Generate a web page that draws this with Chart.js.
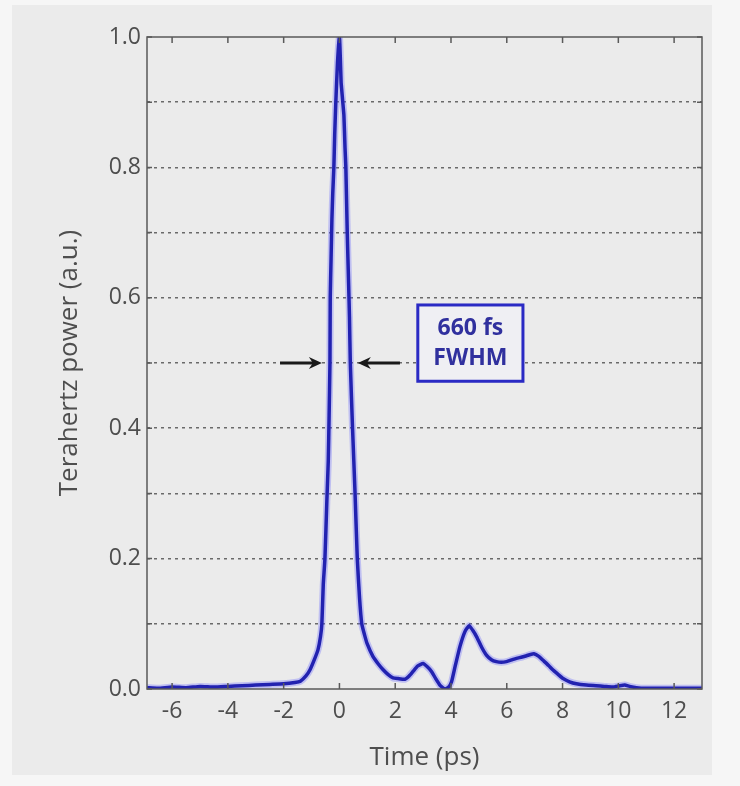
<!DOCTYPE html>
<html>
<head>
<meta charset="utf-8">
<script src="https://cdn.jsdelivr.net/npm/chart.js@4/dist/chart.umd.min.js"></script>
<style>
  html, body { margin: 0; padding: 0; background: #f5f5f5; }
  #wrap { width: 740px; height: 786px; }
</style>
</head>
<body>
<div id="wrap"><canvas id="c" width="740" height="786"></canvas></div>
<script>
// ---- data ----
const timePs = [
  -6.9, -6.5, -6.0, -5.5, -5.0, -4.5, -4.0, -3.5, -3.0, -2.5, -2.0, -1.6, -1.4, -1.2, -1.05,
  -0.9, -0.77, -0.68, -0.63, -0.58, -0.52, -0.45, -0.40, -0.37, -0.34, -0.33, -0.30, -0.27,
  -0.24, -0.20, -0.17, -0.13, -0.07, 0.0, 0.03, 0.06, 0.08, 0.12, 0.16, 0.20, 0.23, 0.28,
  0.33, 0.36, 0.39, 0.47, 0.56, 0.64, 0.72, 0.80, 0.90, 0.99, 1.2, 1.4, 1.56, 1.75, 1.92,
  2.1, 2.35, 2.5, 2.64, 2.8, 3.0, 3.15, 3.3, 3.45, 3.6, 3.78, 3.92, 4.02, 4.15, 4.32, 4.5,
  4.65, 4.78, 4.92, 5.1, 5.27, 5.45, 5.63, 5.8, 5.99, 6.2, 6.35, 6.55, 6.71, 6.85, 6.97,
  7.15, 7.3, 7.5, 7.66, 7.85, 8.02, 8.25, 8.5, 8.85, 9.2, 9.5, 9.8, 10.05, 10.23, 10.4,
  10.65, 11.0, 11.5, 12.0, 12.5, 13.0
];
const powerAu = [
  0.002, 0.001, 0.003, 0.002, 0.004, 0.003, 0.004, 0.005, 0.006, 0.007, 0.008, 0.010, 0.012, 0.020, 0.030,
  0.045, 0.060, 0.080, 0.100, 0.160, 0.200, 0.290, 0.350, 0.420, 0.500, 0.600, 0.660, 0.720,
  0.760, 0.800, 0.850, 0.900, 0.960, 1.000, 0.970, 0.930, 0.920, 0.900, 0.880, 0.830, 0.800, 0.700,
  0.620, 0.570, 0.500, 0.400, 0.300, 0.200, 0.140, 0.100, 0.083, 0.070, 0.050, 0.038, 0.030, 0.022, 0.017,
  0.016, 0.015, 0.020, 0.027, 0.035, 0.039, 0.034, 0.027, 0.016, 0.006, 0.000, 0.003, 0.011, 0.035, 0.065, 0.088,
  0.097, 0.090, 0.080, 0.064, 0.052, 0.045, 0.042, 0.041, 0.042, 0.045, 0.047, 0.049, 0.051, 0.053, 0.054,
  0.050, 0.044, 0.036, 0.029, 0.022, 0.016, 0.011, 0.008, 0.006, 0.005, 0.004, 0.003, 0.005, 0.006, 0.004,
  0.002, 0.001, 0.001, 0.001, 0.001, 0.001
];
const xTickValues = [-6, -4, -2, 0, 2, 4, 6, 8, 10, 12];
const yTickValues = [0, 0.1, 0.2, 0.3, 0.4, 0.5, 0.6, 0.7, 0.8, 0.9, 1.0];
const yLabelValues = [0, 0.2, 0.4, 0.6, 0.8, 1.0];
const xTitle = 'Time (ps)';
const yTitle = 'Terahertz power (a.u.)';
const noteLines = ['660 fs', 'FWHM'];
// annotation anchors in data units
const noteBox = { x0: 2.81, x1: 6.58, y0: 0.589, y1: 0.472 };
const arrowLeft = { from: -2.13, to: -0.63, y: 0.5 };
const arrowRight = { from: 2.17, to: 0.66, y: 0.5 };

const points = timePs.map((t, i) => ({ x: t, y: powerAu[i] }));
const textColor = '#4e4e4e';
const font = '"Open Sans", "Noto Sans", sans-serif';

const bgPlugin = {
  id: 'bg',
  beforeDraw(chart) {
    const ctx = chart.ctx;
    ctx.save();
    ctx.fillStyle = '#f6f6f6';
    ctx.fillRect(0, 0, chart.width, chart.height);
    ctx.fillStyle = '#ebebeb';
    ctx.fillRect(12, 5, 700, 770);
    ctx.restore();
  }
};

function arrow(ctx, x1, x2, y) {
  const dir = Math.sign(x2 - x1);
  ctx.beginPath();
  ctx.moveTo(x1, y);
  ctx.lineTo(x2 - dir * 8, y);
  ctx.stroke();
  ctx.beginPath();
  ctx.moveTo(x2, y);
  ctx.lineTo(x2 - dir * 13, y - 6);
  ctx.lineTo(x2 - dir * 9, y);
  ctx.lineTo(x2 - dir * 13, y + 6);
  ctx.closePath();
  ctx.fill();
}

const framePlugin = {
  id: 'frame',
  afterDatasetsDraw(chart) {
    const { ctx, chartArea: a, scales: { x, y } } = chart;
    ctx.save();
    ctx.strokeStyle = '#5a5a5a';
    ctx.lineWidth = 1.5;
    ctx.strokeRect(a.left, a.top, a.right - a.left, a.bottom - a.top);
    ctx.beginPath();
    xTickValues.forEach(v => {
      const px = x.getPixelForValue(v);
      ctx.moveTo(px, a.top); ctx.lineTo(px, a.top + 6);
      ctx.moveTo(px, a.bottom); ctx.lineTo(px, a.bottom - 6);
    });
    yTickValues.forEach(v => {
      const py = y.getPixelForValue(v);
      ctx.moveTo(a.left, py); ctx.lineTo(a.left + 5, py);
      ctx.moveTo(a.right, py); ctx.lineTo(a.right - 5, py);
    });
    ctx.stroke();

    // arrows
    ctx.strokeStyle = '#1a1a1a';
    ctx.fillStyle = '#1a1a1a';
    ctx.lineWidth = 3;
    arrow(ctx, x.getPixelForValue(arrowLeft.from), x.getPixelForValue(arrowLeft.to), y.getPixelForValue(arrowLeft.y));
    arrow(ctx, x.getPixelForValue(arrowRight.from), x.getPixelForValue(arrowRight.to), y.getPixelForValue(arrowRight.y));

    // note box
    const bx0 = x.getPixelForValue(noteBox.x0), bx1 = x.getPixelForValue(noteBox.x1);
    const by0 = y.getPixelForValue(noteBox.y0), by1 = y.getPixelForValue(noteBox.y1);
    ctx.fillStyle = '#efeff3';
    ctx.fillRect(bx0, by0, bx1 - bx0, by1 - by0);
    ctx.strokeStyle = '#2a2ac4';
    ctx.lineWidth = 3;
    ctx.strokeRect(bx0, by0, bx1 - bx0, by1 - by0);
    ctx.fillStyle = '#30309e';
    ctx.font = 'bold 23px ' + font;
    ctx.textAlign = 'center';
    ctx.textBaseline = 'middle';
    const cx = (bx0 + bx1) / 2;
    ctx.fillText(noteLines[0], cx, by0 + 23);
    ctx.fillText(noteLines[1], cx, by0 + 53);
    ctx.restore();
  }
};

new Chart(document.getElementById('c'), {
  type: 'line',
  data: {
    datasets: [{
      data: points,
      borderColor: '#2222b0',
      borderWidth: 3.5,
      pointRadius: 0,
      tension: 0.15,
      fill: false,
      order: 1
    }, {
      data: points,
      borderColor: 'rgba(90,90,255,0.30)',
      borderWidth: 7,
      pointRadius: 0,
      tension: 0.15,
      fill: false,
      order: 2
    }]
  },
  options: {
    responsive: false,
    animation: false,
    devicePixelRatio: 1,
    layout: { padding: { top: 37, right: 38, left: 0, bottom: 0 } },
    plugins: { legend: { display: false }, tooltip: { enabled: false } },
    scales: {
      x: {
        type: 'linear',
        min: -6.9,
        max: 13,
        afterBuildTicks: s => { s.ticks = xTickValues.map(v => ({ value: v })); },
        afterFit: s => { s.height = 97; },
        grid: { display: false, drawTicks: false },
        border: { display: false },
        ticks: {
          color: textColor,
          font: { family: font, size: 23 },
          padding: 9,
          maxRotation: 0,
          callback: v => String(v)
        },
        title: {
          display: true,
          text: xTitle,
          color: textColor,
          font: { family: font, size: 26 },
          padding: { top: 0, bottom: 13 }
        }
      },
      y: {
        type: 'linear',
        min: 0,
        max: 1,
        afterBuildTicks: s => { s.ticks = yTickValues.map(v => ({ value: v })); },
        afterFit: s => { s.width = 147; },
        grid: {
          drawTicks: false,
          color: ctx => (ctx.tick && (ctx.tick.value <= 0.001 || ctx.tick.value >= 0.999)) ? 'rgba(0,0,0,0)' : '#6a6a6a',
          lineWidth: 1.5
        },
        border: { display: false, dash: [3, 4] },
        ticks: {
          color: textColor,
          font: { family: font, size: 23 },
          padding: 6,
          callback: v => yLabelValues.some(l => Math.abs(l - v) < 1e-6) ? v.toFixed(1) : ''
        },
        title: {
          display: true,
          text: yTitle,
          color: textColor,
          font: { family: font, size: 26 },
          padding: { top: 54, bottom: 0 }
        }
      }
    }
  },
  plugins: [bgPlugin, framePlugin]
});
</script>
</body>
</html>
